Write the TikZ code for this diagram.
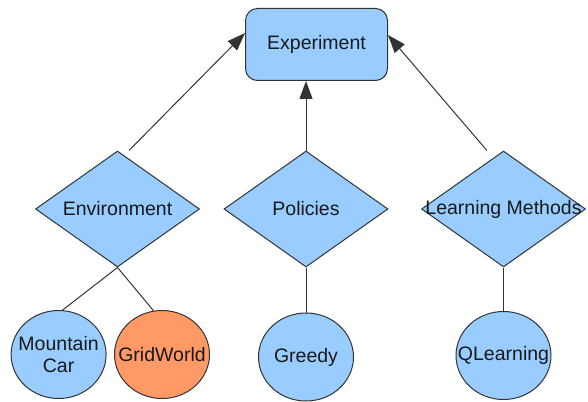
\documentclass[tikz,border=0pt]{standalone}
\usepackage{fontspec}
\setmainfont{Liberation Sans}
\usetikzlibrary{shapes.geometric,arrows.meta}
\definecolor{paleblue}{HTML}{99CCFF}
\definecolor{paleorange}{HTML}{FF9966}
\definecolor{edgegray}{HTML}{333333}
\begin{document}
\begin{tikzpicture}[x=1pt,y=-1pt,
  every node/.style={font=\fontsize{19.5}{22.5}\selectfont, text=black!90},
  box/.style={draw=edgegray, line width=1pt, fill=paleblue, rounded corners=12pt,
    minimum width=142pt, minimum height=72pt, inner sep=0pt},
  choice/.style={diamond, draw=edgegray, line width=1pt, fill=paleblue,
    minimum width=164pt, minimum height=116pt, inner sep=0pt},
  leaf/.style={ellipse, draw=edgegray, line width=1pt, fill=paleblue,
    minimum width=95pt, minimum height=88pt, inner sep=0pt, align=center},
  link/.style={draw=edgegray, line width=1pt},
  feed/.style={link, -{Triangle[length=18pt,width=13pt]}}
]
\useasboundingbox (0,0) rectangle (588,401);

% top-level experiment
\node[box] (exp) at (316.5,44.5) {Experiment};

% component categories
\node[choice] (env) at (117.5,209) {\makebox[0pt]{Environment}};
\node[choice] (pol) at (306,209) {\makebox[0pt]{Policies}};
\node[choice] (lm)  at (503.5,209) {\makebox[0pt]{Learning Methods}};

% concrete implementations
\node[leaf] (mc)  at (58.6,354.5) {\makebox[0pt]{Mountain}\\\makebox[0pt]{Car}};
\node[leaf, fill=paleorange] (gw) at (162,354.5) {\makebox[0pt]{GridWorld}};
\node[leaf] (gr)  at (306,357) {Greedy};
\node[leaf] (ql)  at (503.5,355.5) {\makebox[0pt]{QLearning}};

% categories feed the experiment
\draw[feed] ([xshift=11.5pt]env.north) -- ([yshift=11.5pt]exp.west);
\draw[feed] (pol.north) -- (pol.north |- exp.south);
\draw[feed] ([xshift=-16.6pt]lm.north) -- ([yshift=9.5pt]exp.east);

% implementations belong to categories
\draw[link] (env.south) -- (mc.85);
\draw[link] (env.south) -- (gw.101);
\draw[link] (pol.south) -- (gr.north);
\draw[link] (lm.south) -- (ql.north);
\end{tikzpicture}
\end{document}
